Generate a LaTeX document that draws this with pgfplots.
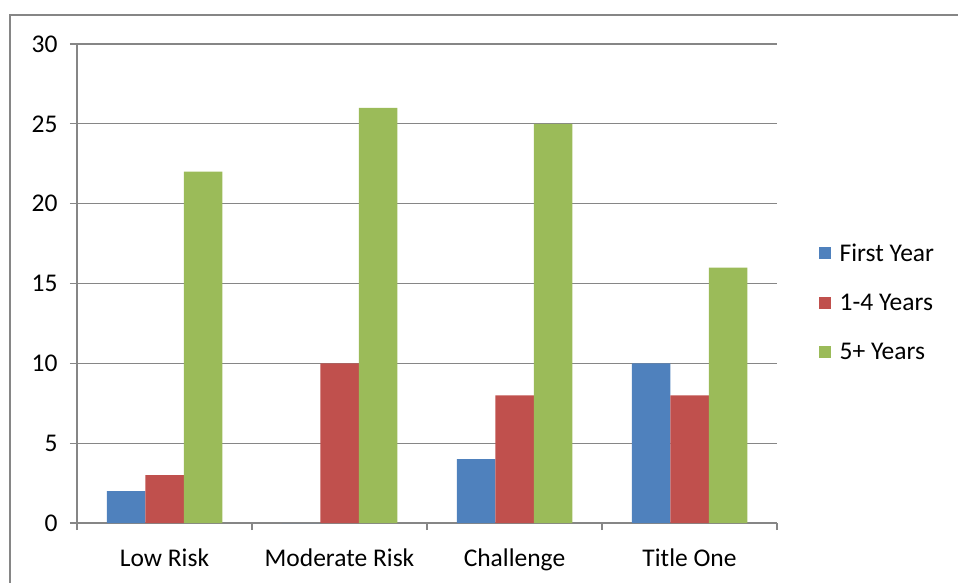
\documentclass[border=0pt]{standalone}
\usepackage{pgfplots}
\pgfplotsset{compat=1.18}
\usepackage{fontspec}
\setmainfont{Carlito}
\definecolor{serA}{HTML}{4F81BD}
\definecolor{serB}{HTML}{C0504D}
\definecolor{serC}{HTML}{9BBB59}
\definecolor{linegray}{HTML}{868686}
\begin{document}
\begin{tikzpicture}
\useasboundingbox (0,0) rectangle (958bp,-583bp);
% chart area frame
\draw[color=linegray, line width=2bp] (9.5bp,-600bp) -- (9.5bp,-14.5bp) -- (980bp,-14.5bp);
\begin{axis}[
  at={(77bp,-523bp)}, anchor=south west,
  scale only axis, width=700bp, height=479bp,
  ybar=0pt, bar width=38.5bp,
  xmin=0.5, xmax=4.5, ymin=0, ymax=30,
  axis x line*=bottom, axis y line*=left,
  axis line style={color=linegray, line width=1.3bp, -},
  xtick={0.5,1.5,2.5,3.5,4.5}, xticklabels={},
  extra x ticks={1,2,3,4},
  extra x tick labels={Low Risk, Moderate Risk, Challenge, Title One},
  extra x tick style={major tick length=0pt, grid=none,
    xticklabel style={yshift=-22bp}},
  ytick={0,5,...,30},
  ymajorgrids,
  grid style={color=linegray, line width=1.1bp},
  tick align=outside, major tick length=7bp,
  tick style={color=linegray, line width=1.2bp},
  tick label style={font=\fontsize{25.5bp}{30bp}\selectfont, color=black},
  yticklabel style={xshift=-9bp},
  /pgf/number format/assume math mode=true,
  legend style={draw=none, at={(1.055,0.461)}, anchor=west,
    font=\fontsize{25.5bp}{30bp}\selectfont, row sep=27bp,
    legend cell align=left,
    /tikz/every odd column/.append style={column sep=7bp}},
  legend image code/.code={\fill[#1] (0bp,-6bp) rectangle (12bp,6bp);},
]
\addplot[fill=serA, draw=none] coordinates {(1,2) (2,0) (3,4) (4,10)};
\addplot[fill=serB, draw=none] coordinates {(1,3) (2,10) (3,8) (4,8)};
\addplot[fill=serC, draw=none] coordinates {(1,22) (2,26) (3,25) (4,16)};
\legend{First Year, 1-4 Years, 5+ Years}
\end{axis}
\end{tikzpicture}
\end{document}
